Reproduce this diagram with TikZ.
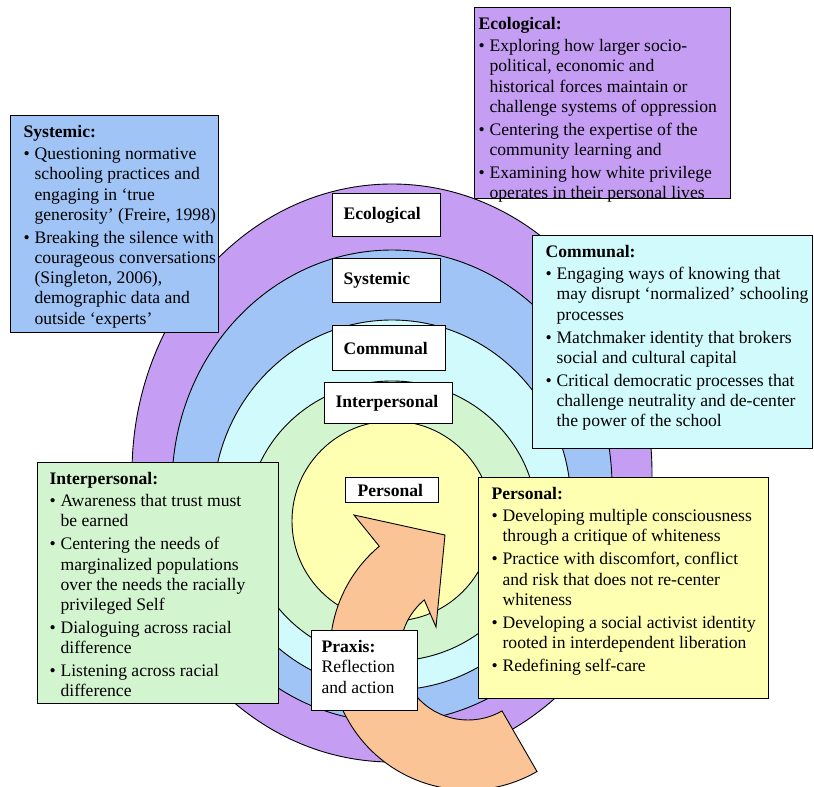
\documentclass[tikz,border=0pt]{standalone}
\usepackage{fontspec}
\setmainfont{Liberation Serif}

\definecolor{ecolpurple}{RGB}{197,158,243}
\definecolor{systblue}{RGB}{160,196,245}
\definecolor{commcyan}{RGB}{208,250,252}
\definecolor{intergreen}{RGB}{210,245,208}
\definecolor{persyellow}{RGB}{255,255,178}
\definecolor{praxispeach}{RGB}{250,196,150}

\def\bodyfont{\fontsize{17.6}{20.2}\selectfont}
\def\itm#1{\par\vspace{1.8pt}\noindent\makebox[11pt][l]{\textbullet}%
   \begin{tabular}[t]{@{}l@{}}#1\end{tabular}}
\def\boxtext#1#2#3{\parbox[c][#2][t]{#1}{\strut #3}}

\begin{document}
\begin{tikzpicture}[x=1pt, y=-1pt,
   ring/.style={draw, line width=0.9pt},
   ringlabel/.style={draw, fill=white, line width=1.2pt, anchor=north west,
      align=left, inner xsep=11pt, inner ysep=2pt, font=\bodyfont\bfseries},
   infobox/.style={draw, line width=1.2pt, anchor=north west,
      inner xsep=12pt, inner ysep=8pt, font=\bodyfont}]
   \useasboundingbox (0,0) rectangle (814,787);
   \fill[white] (0,0) rectangle (814,787);
   % the rings, outside in
   \draw[ring, fill=ecolpurple] (392,473) ellipse [x radius=260, y radius=289];
   \draw[ring, fill=systblue] (392,486) ellipse [x radius=220, y radius=236];
   \draw[ring, fill=commcyan] (392,505) ellipse [x radius=179, y radius=185];
   \draw[ring, fill=intergreen] (392,521) ellipse [x radius=145, y radius=140];
   \draw[ring, fill=persyellow] (392,521) circle (100);
   % ring names
   \node[ringlabel, text width=86pt, minimum height=43pt] (lblEco) at (332,193) {Ecological};
   \node[ringlabel, text width=86pt, minimum height=44pt] (lblSys) at (332,258) {Systemic};
   \node[ringlabel, text width=91pt, minimum height=45pt] (lblCom) at (332,325) {Communal};
   \node[ringlabel, text width=106pt, minimum height=41pt] (lblInt) at (324,382) {Interpersonal};
   \node[ringlabel, inner xsep=12pt, text width=69pt, minimum height=25pt] (lblPer) at (345,477) {Personal};
   % praxis arrow
   \coordinate (arrowctr) at (468,652);
   \coordinate (barbA) at (354,515);
   \coordinate (tipA) at (445,535);
   \coordinate (barbB) at (436,627);
   \draw[line width=0.9pt, fill=praxispeach]
      ([shift={(60:70)}]arrowctr) -- ([shift={(60:138)}]arrowctr)
      arc[start angle=60, end angle=230, radius=138]
      -- (barbA) -- (tipA) -- (barbB)
      -- ([shift={(230:68)}]arrowctr)
      arc[start angle=230, end angle=60, radius=68] -- cycle;
   % text boxes
   \node[infobox, inner xsep=4pt, fill=ecolpurple] (ecoBox) at (474,7) {\boxtext{248pt}{175pt}{%
      \textbf{Ecological:}
      \itm{Exploring how larger socio-\\political, economic and\\historical forces maintain or\\challenge systems of oppression}
      \itm{Centering the expertise of the\\community learning and}
      \itm{Examining how white privilege\\operates in their personal lives}}};
   \node[infobox, inner xsep=13pt, fill=systblue] (sysBox) at (10,115) {\boxtext{182pt}{201pt}{%
      \textbf{Systemic:}
      \itm{Questioning normative\\schooling practices and\\engaging in `true\\generosity' (Freire, 1998)}
      \itm{Breaking the silence with\\courageous conversations\\(Singleton, 2006),\\demographic data and\\outside `experts'}}};
   \node[infobox, inner xsep=13pt, fill=commcyan] (comBox) at (532,235) {\boxtext{254pt}{197pt}{%
      \textbf{Communal:}
      \itm{Engaging ways of knowing that\\may disrupt `normalized' schooling\\processes}
      \itm{Matchmaker identity that brokers\\social and cultural capital}
      \itm{Critical democratic processes that\\challenge neutrality and de-center\\the power of the school}}};
   \node[infobox, fill=intergreen] (intBox) at (37,462) {\boxtext{217pt}{225pt}{%
      \textbf{Interpersonal:}
      \itm{Awareness that trust must\\be earned}
      \itm{Centering the needs of\\marginalized populations\\over the needs the racially\\privileged Self}
      \itm{Dialoguing across racial\\difference}
      \itm{Listening across racial\\difference}}};
   \node[infobox, inner xsep=13pt, fill=persyellow] (perBox) at (478,477) {\boxtext{264pt}{205pt}{%
      \textbf{Personal:}
      \itm{Developing multiple consciousness\\through a critique of whiteness}
      \itm{Practice with discomfort, conflict\\and risk that does not re-center\\whiteness}
      \itm{Developing a social activist identity\\rooted in interdependent liberation}
      \itm{Redefining self-care}}};
   \node[infobox, inner xsep=10pt, fill=white] (praxBox) at (311,630) {\boxtext{86pt}{64pt}{%
      \textbf{Praxis:}\\Reflection\\and action}};
\end{tikzpicture}
\end{document}
